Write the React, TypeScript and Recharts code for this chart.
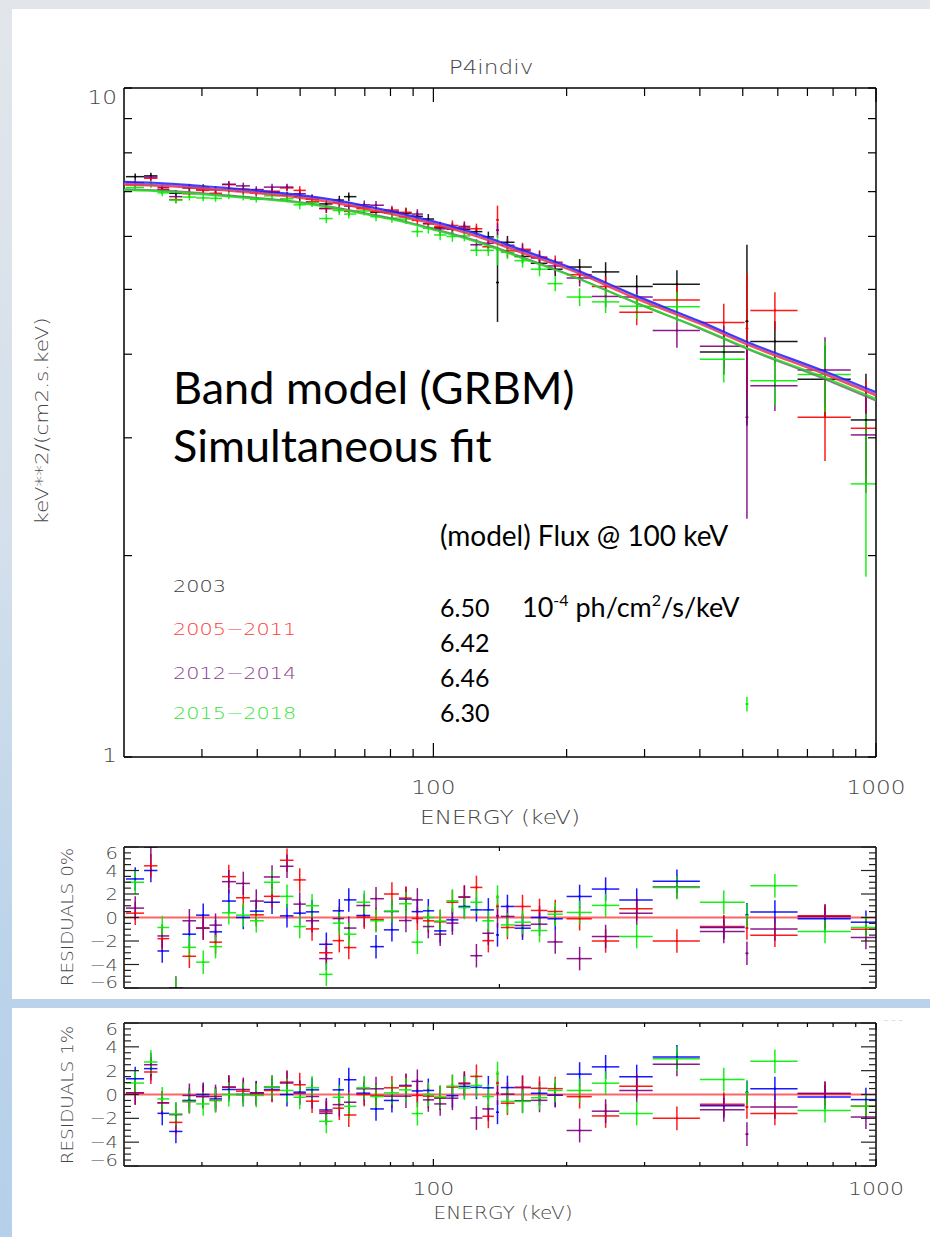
import React from "react";
import { ScatterChart, Scatter, XAxis, YAxis, ErrorBar, ReferenceLine } from "recharts";

// ---------------- energy bins (keV) ----------------
const E_CENTER = [21.2, 23.0, 24.4, 26.2, 28.1, 30.2, 32.2, 34.5, 37.2, 39.8, 43.2, 46.7, 49.9, 53.2, 57.3, 61.3, 64.4, 69.8, 74.2, 80.6, 86.7, 92.0, 97.4, 103.6, 110.4, 117.5, 125.1, 133.1, 139.6, 147.0, 159.0, 173.7, 188.5, 214, 245, 288, 355, 453, 511, 591, 767, 949];
const E_LO = [20.2, 22.2, 23.8, 25.3, 27.1, 29.1, 31.2, 33.3, 35.8, 38.5, 41.4, 45.0, 48.3, 51.5, 55.2, 59.2, 62.8, 67.0, 72.0, 77.3, 83.6, 89.3, 94.7, 100.4, 107.0, 113.9, 121.2, 129.0, 138.6, 142.0, 152.5, 166.0, 181.0, 200, 228, 263, 313, 400, 507, 520, 665, 877];
const E_HI = [22.2, 23.8, 25.3, 27.1, 29.1, 31.2, 33.3, 35.8, 38.5, 41.4, 45.0, 48.3, 51.5, 55.2, 59.2, 62.8, 67.0, 72.0, 77.3, 83.6, 89.3, 94.7, 100.4, 107.0, 113.9, 121.2, 129.0, 137.0, 140.6, 152.5, 166.0, 181.0, 196.0, 228, 263, 313, 400, 505, 515, 665, 877, 1000];

// ---------------- spectra: keV**2/(cm2.s.keV) ----------------
const FLUX_2003 = [7.37, 7.39, 7.05, 6.96, 7.09, 7.10, 7.05, 7.06, 7.01, 6.99, 6.98, 6.92, 6.88, 6.82, 6.71, 6.80, 6.88, 6.63, 6.52, 6.51, 6.50, 6.43, 6.37, 6.19, 6.18, 6.15, 6.10, 5.99, 5.12, 5.88, 5.60, 5.47, 5.36, 5.40, 5.31, 5.05, 5.09, 4.03, 4.48, 4.18, 3.67, 3.19];
const ERR_2003 = [0.08, 0.08, 0.08, 0.08, 0.08, 0.08, 0.08, 0.08, 0.08, 0.08, 0.08, 0.08, 0.1, 0.1, 0.1, 0.1, 0.1, 0.1, 0.1, 0.1, 0.11, 0.11, 0.11, 0.11, 0.11, 0.11, 0.11, 0.11, 0.65, 0.13, 0.13, 0.13, 0.13, 0.15, 0.18, 0.2, 0.25, 0.3, 1.35, 0.3, 0.45, 0.55];
const FLUX_0511 = [7.17, 7.33, 7.05, 6.81, 6.95, 7.03, 6.96, 7.17, 7.06, 6.97, 7.01, 7.09, 7.03, 6.76, 6.60, 6.60, 6.54, 6.60, 6.54, 6.57, 6.52, 6.34, 6.27, 6.20, 6.23, 6.18, 6.16, 5.79, 6.35, 5.71, 5.74, 5.59, 5.49, 5.26, 5.05, 4.62, 4.82, 4.46, 4.37, 4.65, 3.22, 3.10];
const ERR_0511 = [0.08, 0.08, 0.08, 0.08, 0.08, 0.08, 0.08, 0.08, 0.08, 0.08, 0.08, 0.08, 0.1, 0.1, 0.1, 0.1, 0.1, 0.1, 0.1, 0.1, 0.11, 0.11, 0.11, 0.11, 0.11, 0.11, 0.11, 0.11, 0.32, 0.13, 0.13, 0.13, 0.13, 0.15, 0.18, 0.2, 0.25, 0.3, 0.9, 0.3, 0.45, 0.55];
const FLUX_1214 = [7.22, 7.36, 7.10, 6.88, 7.11, 7.06, 7.05, 7.18, 7.14, 7.05, 7.11, 7.11, 6.95, 6.84, 6.61, 6.74, 6.66, 6.69, 6.68, 6.54, 6.42, 6.48, 6.27, 6.16, 6.15, 6.21, 5.83, 5.86, 6.13, 5.82, 5.71, 5.57, 5.42, 5.20, 4.88, 4.87, 4.34, 4.11, 3.22, 3.59, 3.79, 3.03];
const ERR_1214 = [0.08, 0.08, 0.08, 0.08, 0.08, 0.08, 0.08, 0.08, 0.08, 0.08, 0.08, 0.08, 0.1, 0.1, 0.1, 0.1, 0.1, 0.1, 0.1, 0.1, 0.11, 0.11, 0.11, 0.11, 0.11, 0.11, 0.11, 0.11, 0.15, 0.13, 0.13, 0.13, 0.13, 0.15, 0.18, 0.2, 0.25, 0.3, 0.95, 0.3, 0.45, 0.55];
const FLUX_1518 = [7.10, 7.17, 6.97, 6.80, 6.87, 6.85, 6.84, 6.90, 6.87, 6.82, 6.90, 6.83, 6.69, 6.74, 6.38, 6.56, 6.48, 6.55, 6.42, 6.39, 6.37, 6.10, 6.17, 6.03, 6.00, 6.01, 5.72, 5.72, 5.73, 5.68, 5.52, 5.36, 5.10, 4.87, 4.79, 4.72, 4.71, 3.93, 1.20, 3.65, 3.73, 2.56];
const ERR_1518 = [0.08, 0.08, 0.08, 0.08, 0.08, 0.08, 0.08, 0.08, 0.08, 0.08, 0.08, 0.08, 0.1, 0.1, 0.1, 0.1, 0.1, 0.1, 0.1, 0.1, 0.11, 0.11, 0.11, 0.11, 0.11, 0.11, 0.11, 0.11, 0.3, 0.13, 0.13, 0.13, 0.13, 0.15, 0.18, 0.2, 0.25, 0.3, 0.03, 0.3, 0.45, 0.7];

// ---------------- model curves ----------------
const MODEL_E = [20, 25, 30, 40, 50, 60, 70, 80, 100, 125, 156, 200, 292, 400, 518, 767, 1000];
const MODEL_2003 = [7.24, 7.20, 7.14, 7.03, 6.92, 6.80, 6.67, 6.55, 6.32, 6.06, 5.75, 5.42, 4.87, 4.48, 4.16, 3.77, 3.51];
const MODEL_0511 = [7.17, 7.13, 7.07, 6.96, 6.85, 6.73, 6.60, 6.48, 6.26, 6.00, 5.69, 5.37, 4.82, 4.44, 4.12, 3.73, 3.47];
const MODEL_1214 = [7.20, 7.16, 7.10, 6.99, 6.89, 6.77, 6.64, 6.52, 6.29, 6.03, 5.72, 5.39, 4.85, 4.46, 4.14, 3.75, 3.49];
const MODEL_GRAY = [7.06, 7.02, 6.96, 6.85, 6.75, 6.63, 6.50, 6.39, 6.16, 5.91, 5.61, 5.28, 4.75, 4.37, 4.06, 3.67, 3.41];
const MODEL_1518 = [7.04, 7.00, 6.94, 6.83, 6.73, 6.61, 6.48, 6.37, 6.14, 5.89, 5.59, 5.27, 4.75, 4.38, 4.07, 3.69, 3.43];

// ---------------- residuals (sigma) ----------------
const RES0_BLUE = [3.28, 4.0, -2.85, -8, -1.42, 0.2, -1.22, 1.4, 0.0, 0.54, 1.3, 0.14, 0.37, 0.48, -2.28, 0.57, 1.5, 0.17, -2.48, -1.05, 1.57, 0.5, 0.57, -1.14, -0.2, 0.94, 0.65, 0.65, -1.48, 0.94, -0.91, 0, -0.11, 1.79, 2.42, 1.48, 3.08, -0.85, 0.23, 0.46, -0.11, -0.4];
const RES0_RED = [0.37, 4.4, -1.8, -7, -3.3, -0.9, -2.1, 3.48, 1.68, 0.23, 1.8, 4.87, 3.2, -0.97, -3.0, -1.97, -2.56, 0.03, -0.17, 2.0, 1.65, -0.09, -0.28, -0.37, 1.3, 1.74, 2.56, -1.97, 0.94, -0.85, 0.94, 0.6, 0.51, -0.11, -2.0, 0.74, -2.0, -0.77, -0.9, -1.51, 0.14, -1.0];
const RES0_PURPLE = [0.8, 6.0, -1.57, -6.0, -0.28, -0.9, -0.65, 3.05, 2.9, 1.4, 3.45, 4.36, 1.14, -0.28, -3.5, -0.09, -0.9, 1.02, 1.6, 0.51, -0.26, 1.5, -0.77, -1.42, -0.48, 1.74, -3.25, -1.34, 0.14, 0.09, -0.68, -0.57, -2.08, -3.5, -1.62, 0.37, 2.6, -1.2, -3.05, -0.97, 0.09, -1.7];
const RES0_GREEN = [3.0, 7.0, -0.85, -6.1, -2.54, -3.8, -2.48, 0.4, 0.2, -0.28, 3.0, 1.8, -0.77, 1.0, -4.84, -0.48, -1.42, 1.3, -0.28, 0.54, 1.17, -2.1, 0, -0.3, 1.42, 0.85, 1.3, -0.28, 1.74, -0.63, -0.4, -1.11, 0.28, 0.43, 1.03, -1.62, 2.56, 1.3, 0.14, 2.7, -1.2, -0.85];

const RES1_BLUE = [1.32, 2.17, -1.58, -3.1, -0.5, 0, -0.37, 0.42, 0, 0.14, 0.42, 0, 0.2, 0.39, -1.3, 0.39, 1.24, 0.11, -1.21, -0.5, 0.76, 0.3, 0.34, -0.3, -0.1, 0.68, 0.6, 0.56, -1.49, 0.58, 0.6, 0.1, -0.06, 1.71, 2.32, 1.5, 3.15, -0.95, 0.18, 0.49, -0.21, -0.43];
const RES1_RED = [0.14, 1.89, -0.7, -2.34, -0.59, -0.17, -0.5, 0.62, 0.28, 0.06, 0.34, 1.04, 0.82, -0.56, -1.44, -1.15, -1.72, 0, -0.08, 0.56, 0.7, -0.08, -0.14, -0.28, 0.62, 0.96, 1.52, -1.83, 0.96, -0.73, 0.58, 0.52, 0.49, -0.18, -1.8, 0.7, -2.0, -0.82, -1.04, -1.59, 0.09, -0.98];
const RES1_PURPLE = [0.14, 2.5, -0.7, -1.69, -0.08, -0.17, -0.17, 0.62, 0.42, 0.14, 0.62, 0.96, 0.11, -0.17, -1.58, -0.85, -0.65, 0.48, 0.48, -0.14, -0.14, 1.1, -0.45, -0.79, -0.31, 0.9, -1.97, -1.21, 0.11, 0.03, -0.52, -0.49, -0.06, -3.02, -1.4, 0.34, 2.53, -1.28, -3.33, -1.04, 0.09, -1.89];
const RES1_GREEN = [0.96, 2.73, -0.37, -1.63, -0.59, -0.79, -0.5, 0, 0, -0.08, 0.62, 0.34, -0.23, 0.56, -2.25, -0.23, -0.99, 0.56, -0.17, 0.14, 0.39, -1.6, 0, -0.2, 0.7, 0.54, 0.76, -0.17, 1.75, -0.58, -0.58, -0.27, 0.34, 0.34, 0.95, -1.59, 3.0, 1.25, 0.14, 2.78, -1.34, -0.98];
const RES_SIGMA = 1;

// ---------------- ticks / labels ----------------
const X_TICKS = [30, 40, 50, 60, 70, 80, 90, 100, 200, 300, 400, 500, 600, 700, 800, 900, 1000];
const X_MAJOR = [100, 1000];
const X_TICKS_RES0 = [141];
const Y_TICKS_MAIN = [1, 2, 3, 4, 5, 6, 7, 8, 9, 10];
const Y_LABELS_MAIN = [1, 10];
const RES_TICKS = [-6, -5.5, -5, -4.5, -4, -3.5, -3, -2.5, -2, -1.5, -1, -0.5, 0, 0.5, 1, 1.5, 2, 2.5, 3, 3.5, 4, 4.5, 5, 5.5, 6];
const RES_LABELS = [-6, -4, -2, 0, 2, 4, 6];
const LEGEND_NAMES = ["2003", "2005\u22122011", "2012\u22122014", "2015\u22122018"];
const LEGEND_COLORS = ["#3a3a3a", "#ff3b3b", "#8e3c8e", "#33e633"];
const FLUX_100 = ["6.50", "6.42", "6.46", "6.30"];

const IDL_FONT = '"DejaVu Sans", sans-serif';
const SLIDE_FONT = 'Lato, "Open Sans", sans-serif';
const IDL_FILL = "#454545";
const SX = 1.22;

// ---------------- helpers ----------------
const specPts = (vals: number[], errs: number[]) =>
  E_CENTER.map((e, i) => ({ x: e, y: vals[i], ex: [e - E_LO[i], E_HI[i] - e], ey: errs[i] }));
const resPts = (vals: number[]) =>
  E_CENTER.map((e, i) => ({ x: e, y: vals[i], ex: [e - E_LO[i], E_HI[i] - e], ey: RES_SIGMA }));
const modelPts = (vals: number[]) => MODEL_E.map((e, i) => ({ x: e, y: vals[i] }));

const IText = (p: any) => (
  <text
    transform={`translate(${p.x},${p.y}) rotate(${p.rotate || 0}) scale(${p.sx || SX},1)`}
    fontFamily={IDL_FONT}
    fontSize={p.size || 19}
    fontWeight={200}
    textAnchor={p.anchor || "start"}
    fill={p.fill || IDL_FILL}
  >
    {p.children}
  </text>
);

const crossSeries = (key: string, data: any[], color: string, sw: number, xId = "b", yId = "l") => (
  <Scatter
    key={key}
    data={data}
    xAxisId={xId}
    yAxisId={yId}
    fill={color}
    isAnimationActive={false}
    shape={(p: any) => <circle cx={p.cx} cy={p.cy} r={1.1} fill={color} />}
  >
    <ErrorBar dataKey="ex" direction="x" width={0} stroke={color} strokeWidth={sw} strokeOpacity={0.9} isAnimationActive={false} />
    <ErrorBar dataKey="ey" direction="y" width={0} stroke={color} strokeWidth={sw} strokeOpacity={0.9} isAnimationActive={false} />
  </Scatter>
);

const modelSeries = (key: string, vals: number[], color: string) => (
  <Scatter
    key={key}
    data={modelPts(vals)}
    xAxisId="b"
    yAxisId="l"
    isAnimationActive={false}
    line={{ stroke: color, strokeWidth: 2, strokeOpacity: 0.85 }}
    lineJointType="monotoneX"
    shape={() => <g />}
  />
);

// tick renderers (ticks drawn inward, IDL style)
const bottomTick = (majorLen: number, minorLen: number, labels: number[], labelDy: number, size: number) => (p: any) => {
  const v = p.payload.value;
  const len = X_MAJOR.includes(v) ? majorLen : minorLen;
  return (
    <g>
      <line x1={p.x} x2={p.x} y1={p.y} y2={p.y - len} stroke="#000" strokeWidth={1.2} />
      {labels.includes(v) ? (
        <IText x={p.x} y={p.y + labelDy} anchor="middle" size={size}>{String(v)}</IText>
      ) : null}
    </g>
  );
};
const topTick = (majorLen: number, minorLen: number) => (p: any) => {
  const v = p.payload.value;
  const len = X_MAJOR.includes(v) ? majorLen : minorLen;
  return <line x1={p.x} x2={p.x} y1={p.y} y2={p.y + len} stroke="#000" strokeWidth={1.2} />;
};
const leftTickMain = (p: any) => {
  const v = p.payload.value;
  const dy = v === 10 ? 16 : 5;
  return (
    <g>
      <line x1={p.x} x2={p.x + 8} y1={p.y} y2={p.y} stroke="#000" strokeWidth={1.2} />
      {Y_LABELS_MAIN.includes(v) ? (
        <IText x={p.x - 7} y={p.y + dy} anchor="end" size={19}>{String(v)}</IText>
      ) : null}
    </g>
  );
};
const rightTickMain = (p: any) => (
  <line x1={p.x} x2={p.x - 8} y1={p.y} y2={p.y} stroke="#000" strokeWidth={1.2} />
);
const resLabel = (v: number) => (v < 0 ? "\u2212" + Math.abs(v) : String(v));
const leftTickRes = (p: any) => {
  const v = p.payload.value;
  const major = RES_LABELS.includes(v);
  const shift = v === 6 ? 6 : v === -6 ? -6 : 0;
  return (
    <g>
      <line x1={p.x} x2={p.x + (major ? 15 : 7)} y1={p.y} y2={p.y} stroke="#222" strokeWidth={1.2} />
      {major ? (
        <IText x={p.x - 6} y={p.y + 6 + shift} anchor="end" size={16}>{resLabel(v)}</IText>
      ) : null}
    </g>
  );
};
const rightTickRes = (p: any) => {
  const v = p.payload.value;
  const major = RES_LABELS.includes(v);
  return <line x1={p.x} x2={p.x - (major ? 15 : 7)} y1={p.y} y2={p.y} stroke="#222" strokeWidth={1.2} />;
};

const axisLineStyle = { stroke: "#000", strokeWidth: 1.5 };

function MainChart() {
  const hidden = modelPts(MODEL_2003);
  return (
    <ScatterChart width={930} height={830} margin={{ top: 78, right: 44, bottom: 33, left: 64 }}>
      <XAxis xAxisId="b" dataKey="x" type="number" scale="log" domain={[20, 1000]} allowDataOverflow ticks={X_TICKS} interval={0}
        height={40} tickSize={0} tickMargin={0} tickLine={false} axisLine={axisLineStyle} tick={bottomTick(14, 8, X_MAJOR, 37, 19)} />
      <XAxis xAxisId="t" orientation="top" dataKey="x" type="number" scale="log" domain={[20, 1000]} allowDataOverflow ticks={X_TICKS} interval={0}
        height={10} tickSize={0} tickMargin={0} tickLine={false} axisLine={axisLineStyle} tick={topTick(14, 8)} />
      <YAxis yAxisId="l" dataKey="y" type="number" scale="log" domain={[1, 10]} allowDataOverflow ticks={Y_TICKS_MAIN} interval={0}
        width={60} tickSize={0} tickMargin={0} tickLine={false} axisLine={axisLineStyle} tick={leftTickMain} />
      <YAxis yAxisId="r" orientation="right" dataKey="y" type="number" scale="log" domain={[1, 10]} allowDataOverflow ticks={Y_TICKS_MAIN} interval={0}
        width={10} tickSize={0} tickMargin={0} tickLine={false} axisLine={axisLineStyle} tick={rightTickMain} />
      <Scatter data={hidden} xAxisId="t" yAxisId="r" isAnimationActive={false} shape={() => <g />} />
      {crossSeries("d2003", specPts(FLUX_2003, ERR_2003), "#000000", 1.5)}
      {crossSeries("d0511", specPts(FLUX_0511, ERR_0511), "#ff0000", 1.5)}
      {crossSeries("d1214", specPts(FLUX_1214, ERR_1214), "#800080", 1.5)}
      {crossSeries("d1518", specPts(FLUX_1518, ERR_1518), "#00ee00", 1.5)}
      {modelSeries("mgr", MODEL_GRAY, "#707070")}
      {modelSeries("mgn", MODEL_1518, "#22dd22")}
      {modelSeries("mrd", MODEL_0511, "#ff3030")}
      {modelSeries("mpu", MODEL_1214, "#b050b0")}
      {modelSeries("mbl", MODEL_2003, "#2020ff")}
    </ScatterChart>
  );
}

// layer "axes": frame, ticks and labels; layer "data": crosses + zero line (placed in a clipping box)
function ResidualChart(props: any) {
  const { height, series, xTicks, xLabels, bottomH, marginTop, marginBottom, layer } = props;
  const axes = layer === "axes";
  const noLine = false as any;
  return (
    <ScatterChart width={930} height={height} margin={{ top: marginTop, right: 44, bottom: marginBottom, left: 64 }}>
      <XAxis xAxisId="b" dataKey="x" type="number" scale="log" domain={[20, 1000]} allowDataOverflow ticks={xTicks} interval={0}
        height={bottomH} tickSize={0} tickMargin={0} tickLine={false} axisLine={axes ? axisLineStyle : noLine}
        tick={axes ? bottomTick(7, 4, xLabels, 29, 18) : false} />
      <XAxis xAxisId="t" orientation="top" dataKey="x" type="number" scale="log" domain={[20, 1000]} allowDataOverflow ticks={xTicks} interval={0}
        height={10} tickSize={0} tickMargin={0} tickLine={false} axisLine={axes ? axisLineStyle : noLine}
        tick={axes ? topTick(7, 4) : false} />
      <YAxis yAxisId="l" dataKey="y" type="number" domain={[-6, 6]} allowDataOverflow ticks={RES_TICKS} interval={0}
        width={60} tickSize={0} tickMargin={0} tickLine={false} axisLine={axes ? axisLineStyle : noLine}
        tick={axes ? leftTickRes : false} />
      <YAxis yAxisId="r" orientation="right" dataKey="y" type="number" domain={[-6, 6]} allowDataOverflow ticks={RES_TICKS} interval={0}
        width={10} tickSize={0} tickMargin={0} tickLine={false} axisLine={axes ? axisLineStyle : noLine}
        tick={axes ? rightTickRes : false} />
      <Scatter data={resPts(series[0])} xAxisId="t" yAxisId="r" isAnimationActive={false} shape={() => <g />} />
      <Scatter data={resPts(series[0])} xAxisId="b" yAxisId="l" isAnimationActive={false} shape={() => <g />} />
      {axes ? null : <ReferenceLine xAxisId="b" yAxisId="l" y={0} stroke="#ff4a4a" strokeWidth={2.2} strokeOpacity={0.85} />}
      {axes ? null : crossSeries("rb", resPts(series[0]), "#0000ff", 1.5)}
      {axes ? null : crossSeries("rr", resPts(series[1]), "#ff0000", 1.5)}
      {axes ? null : crossSeries("rp", resPts(series[2]), "#800080", 1.5)}
      {axes ? null : crossSeries("rg", resPts(series[3]), "#00ee00", 1.5)}
    </ScatterChart>
  );
}

function ResidualPanel(props: any) {
  const { chartTop, plotTop, plotHeight } = props;
  return (
    <>
      <div style={{ position: "absolute", left: 124, top: plotTop, width: 752, height: plotHeight, overflow: "hidden" }}>
        <div style={{ position: "absolute", left: -124, top: chartTop - plotTop }}>
          <ResidualChart {...props} layer="data" />
        </div>
      </div>
      <div style={{ position: "absolute", left: 0, top: chartTop }}>
        <ResidualChart {...props} layer="axes" />
      </div>
    </>
  );
}

export default function App() {
  return (
    <div
      style={{
        position: "absolute",
        left: 0,
        top: 0,
        width: 930,
        height: 1237,
        overflow: "hidden",
        background: "linear-gradient(180deg, #e2e6eb 0%, #d3dfeb 45%, #bcd4ea 75%, #b6d0ea 100%)",
      }}
    >
      <div style={{ position: "absolute", left: 12, top: 9, width: 918, height: 990, background: "#ffffff" }} />
      <div style={{ position: "absolute", left: 12, top: 1008, width: 918, height: 229, background: "#ffffff" }} />

      <div style={{ position: "absolute", left: 0, top: 0 }}>
        <MainChart />
      </div>
      <ResidualPanel chartTop={820} plotTop={847} plotHeight={141} height={190} marginTop={17} marginBottom={12} bottomH={10}
        series={[RES0_BLUE, RES0_RED, RES0_PURPLE, RES0_GREEN]} xTicks={X_TICKS_RES0} xLabels={[]} />
      <ResidualPanel chartTop={1000} plotTop={1023} plotHeight={143} height={237} marginTop={13} marginBottom={31} bottomH={40}
        series={[RES1_BLUE, RES1_RED, RES1_PURPLE, RES1_GREEN]} xTicks={X_TICKS} xLabels={X_MAJOR} />

      <svg width={930} height={1237} style={{ position: "absolute", left: 0, top: 0, pointerEvents: "none" }}>
        <IText x={491} y={74} anchor="middle" size={19}>P4indiv</IText>
        <IText x={500} y={824} anchor="middle" size={19}>ENERGY (keV)</IText>
        <IText x={48} y={421} anchor="middle" size={18} rotate={-90} sx={1.2}>keV**2/(cm2.s.keV)</IText>
        <IText x={73} y={917} anchor="middle" size={16} rotate={-90} sx={1.15}>RESIDUALS  0%</IText>
        <IText x={73} y={1095} anchor="middle" size={16} rotate={-90} sx={1.15}>RESIDUALS  1%</IText>
        <IText x={503} y={1219} anchor="middle" size={18} sx={1.12}>ENERGY (keV)</IText>
        <IText x={884} y={1023} anchor="start" size={9} fill="#999">- - -</IText>

        {LEGEND_NAMES.map((n, i) => (
          <IText key={n} x={173} y={[592, 635, 679, 719][i]} size={16} sx={1.3} fill={LEGEND_COLORS[i]}>{n}</IText>
        ))}

        <text x={173} y={404} fontFamily={SLIDE_FONT} fontSize={45} fill="#000">Band model (GRBM)</text>
        <text x={173} y={462} fontFamily={SLIDE_FONT} fontSize={45} fill="#000">Simultaneous fit</text>
        <text x={440} y={546} fontFamily={SLIDE_FONT} fontSize={28} fill="#000">(model) Flux @ 100 keV</text>
        {FLUX_100.map((f, i) => (
          <text key={f} x={440} y={[617, 652, 687, 722][i]} fontFamily={SLIDE_FONT} fontSize={25} fill="#000">{f}</text>
        ))}
        <text x={522} y={617} fontFamily={SLIDE_FONT} fontSize={27} fill="#000">
          <tspan>10</tspan>
          <tspan fontSize={16} dy={-11}>-4</tspan>
          <tspan dy={11}> ph/cm</tspan>
          <tspan fontSize={16} dy={-11}>2</tspan>
          <tspan dy={11}>/s/keV</tspan>
        </text>
      </svg>
    </div>
  );
}
